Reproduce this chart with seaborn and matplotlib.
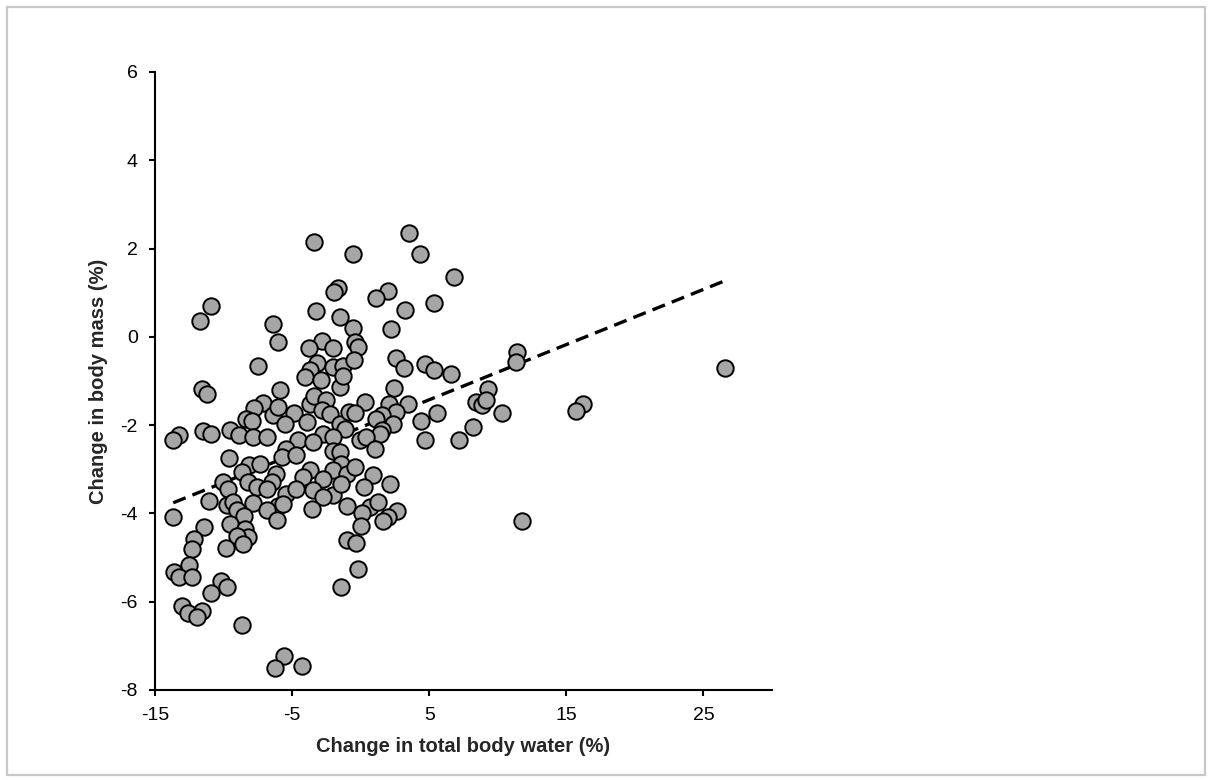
import matplotlib
matplotlib.use("Agg")
import matplotlib.pyplot as plt
import seaborn as sns
import numpy as np
import pandas as pd
from matplotlib.patches import Rectangle

# ---- data ----
water_change = [
    -3.40, -0.55, -1.65, -1.94, -10.94, -11.72, -3.29, -1.54, -6.43, -6.02,
    -2.81, -3.76, -2.01, -7.50, -3.22, -3.71, -4.07, -2.86, -2.05, -1.28,
    -1.52, -11.60, -11.24, -5.89, -7.11, -7.79, -6.43, -6.02, -8.39, -7.96,
    -4.87, -5.53, -3.95, -3.66, -3.40, -2.56, -2.81, -2.25, -1.52, -1.11,
    -0.85, -11.53, -10.92, -9.54, -13.23, -13.67,
    -8.86, -7.88, -6.86, -2.74, -2.01, -4.56, -3.47, -5.41, -5.77, -4.68,
    -2.05, -1.52, -1.40, -9.59, -8.15, -7.35, -8.68, -3.71, -4.20, -2.01,
    -2.74, -1.03, -6.19, -6.50, -8.20, -7.55, -10.07, -9.66, -6.86, -5.41,
    -4.68, -3.51, -2.01, -2.74, -1.40, -11.05, -9.73, -9.30, -7.84, -6.02,
    -5.65, -6.86, -6.13, -3.58, -1.03, -13.67, -9.01, -8.50, -9.54, -8.44,
    -8.20, -9.01, -8.61, -11.43, -12.16, -12.33, -9.83, -1.03, -12.52, -13.62,
    -13.23, -12.33, -10.21, -9.73, -10.92, -1.40, -13.06, -12.58, -11.60, -11.96,
    -8.68, -5.58, -6.26, -4.31,
    3.53, 4.36, 6.81, 2.00, 1.15, 3.26, 5.38, -0.55, 2.24, -0.38,
    -0.19, -0.50, -1.28, 2.61, 3.16, 4.67, 5.35, 6.62, 11.42, 11.30,
    2.41, 9.28, 8.39, 8.87, 9.17, 0.30, -0.43, 2.07, 3.45, 2.61,
    1.52, 1.10, 2.36, 5.57, 4.43, 10.30, 8.19, 1.52, 1.44, -0.07,
    0.42, 4.67, 7.17, 1.03,
    -0.43, 0.90, 0.23, 2.12, 0.71, 1.27, 0.13, 2.65, 2.00, 1.63,
    -0.01, -0.31, -0.23, 11.79,
    16.20, 15.72, 26.58,
]
mass_change = [
    2.15, 1.88, 1.11, 1.02, 0.69, 0.36, 0.59, 0.44, 0.29, -0.12,
    -0.10, -0.25, -0.25, -0.67, -0.59, -0.76, -0.91, -0.98, -0.68, -0.66,
    -1.14, -1.17, -1.29, -1.20, -1.50, -1.61, -1.76, -1.59, -1.85, -1.91,
    -1.73, -1.97, -1.93, -1.51, -1.35, -1.44, -1.66, -1.74, -1.97, -2.08,
    -1.70, -2.13, -2.19, -2.12, -2.23, -2.34,
    -2.23, -2.27, -2.27, -2.19, -2.27, -2.34, -2.38, -2.53, -2.72, -2.68,
    -2.59, -2.61, -2.87, -2.74, -2.90, -2.87, -3.06, -3.02, -3.18, -3.02,
    -3.21, -3.10, -3.10, -3.29, -3.29, -3.39, -3.29, -3.44, -3.44, -3.55,
    -3.44, -3.46, -3.59, -3.63, -3.33, -3.72, -3.82, -3.74, -3.77, -3.84,
    -3.78, -3.93, -4.14, -3.89, -3.84, -4.08, -3.93, -4.05, -4.23, -4.35,
    -4.54, -4.50, -4.70, -4.31, -4.57, -4.80, -4.79, -4.61, -5.16, -5.33,
    -5.43, -5.43, -5.54, -5.66, -5.80, -5.66, -6.09, -6.26, -6.20, -6.35,
    -6.52, -7.22, -7.50, -7.45,
    2.36, 1.88, 1.36, 1.05, 0.87, 0.60, 0.77, 0.19, 0.17, -0.12,
    -0.23, -0.53, -0.89, -0.49, -0.70, -0.61, -0.74, -0.85, -0.34, -0.57,
    -1.15, -1.17, -1.48, -1.54, -1.42, -1.48, -1.73, -1.51, -1.51, -1.70,
    -1.78, -1.85, -1.97, -1.73, -1.91, -1.73, -2.04, -2.10, -2.19, -2.34,
    -2.27, -2.34, -2.34, -2.53,
    -2.95, -3.14, -3.40, -3.33, -3.86, -3.74, -3.99, -3.95, -4.07, -4.18,
    -4.29, -4.66, -5.25, -4.17,
    -1.51, -1.68, -0.71,
]
trend_slope = 0.125
trend_intercept = -2.05

x_ticks = [-15, -5, 5, 15, 25]
y_ticks = [-8, -6, -4, -2, 0, 2, 4, 6]
x_label = "Change in total body water (%)"
y_label = "Change in body mass (%)"

# ---- figure ----
sns.set_style("ticks")
plt.rcParams["font.family"] = ["Liberation Sans", "DejaVu Sans"]

fig = plt.figure(figsize=(12.13, 7.80), dpi=100)
ax = fig.add_axes([155 / 1213, 1 - 690 / 780, (772 - 155) / 1213, (690 - 72) / 780])

df = pd.DataFrame({"water": water_change, "mass": mass_change})

# trend line from fitted coefficients over the data range
xl = np.array([df["water"].min(), df["water"].max()])
line_df = pd.DataFrame({"water": xl, "mass": trend_intercept + trend_slope * xl})
sns.lineplot(data=line_df, x="water", y="mass", ax=ax, color="black",
             linewidth=2.4, linestyle=(0, (4, 2.2)), zorder=2)

sns.scatterplot(data=df, x="water", y="mass", ax=ax, s=140,
                color="#a6a6a6", edgecolor="black", linewidth=1.4, zorder=3)

ax.set_xlim(-15, 30)
ax.set_ylim(-8, 6)
ax.set_xticks(x_ticks)
ax.set_yticks(y_ticks)
ax.set_xticklabels([str(v) for v in x_ticks])
ax.set_yticklabels([str(v) for v in y_ticks])

for side in ["top", "right"]:
    ax.spines[side].set_visible(False)
for side in ["left", "bottom"]:
    ax.spines[side].set_linewidth(1.5)
    ax.spines[side].set_color("black")

ax.tick_params(axis="both", direction="out", length=4.5, width=1.5,
               labelsize=14, pad=8, colors="black")

ax.set_xlabel(x_label, fontsize=14.5, fontweight="bold", labelpad=9)
ax.set_ylabel(y_label, fontsize=14.5, fontweight="bold", labelpad=9)

# light grey frame around the whole picture
fig.patches.append(Rectangle((7 / 1213, 5 / 780), 1198 / 1213, 768 / 780,
                             transform=fig.transFigure, fill=False,
                             edgecolor="#c8c8c8", linewidth=1.6))

fig.savefig("out.png", dpi=100, facecolor="white")
